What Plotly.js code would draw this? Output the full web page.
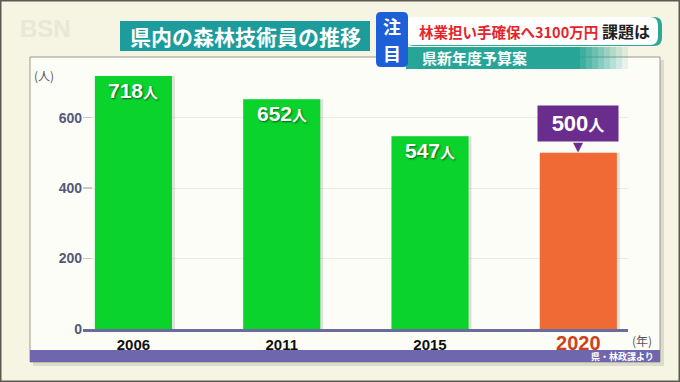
<!DOCTYPE html>
<html>
<head>
<meta charset="utf-8">
<script src="https://cdn.plot.ly/plotly-3.0.1.min.js"></script>
<style>html,body{margin:0;padding:0;background:#f6f4e3;}#chart{width:680px;height:382px;}</style>
</head>
<body>
<div id="chart"></div>
<script>
// ---- data ----
const years = ['2006', '2011', '2015', '2020'];
const staff = [718, 652, 547, 500];
const yTicks = [0, 200, 400, 600];
const yTickLabels = ['0', '200', '400', '600'];
const unit = '人';
const highlightYear = '2020';

// ---- layout geometry (page pixels) ----
const PW = 680, PHT = 382;
const L = 83, R = 52, T = 63, B = 53;
const W = PW - L - R, PH = PHT - T - B;
const px = x => (x - L) / W;
const py = y => (T + PH - y) / PH;
const FONT = 'Liberation Sans, Arial, Noto Sans CJK JP, sans-serif';
const JFONT = 'Noto Sans CJK JP, sans-serif';

function rect(x0, y0, x1, y1, fill, line, lw) {
  return {type: 'rect', xref: 'paper', yref: 'paper', layer: 'below',
    x0: px(x0), x1: px(x1), y0: py(y1), y1: py(y0),
    fillcolor: fill, line: {color: line || 'rgba(0,0,0,0)', width: lw || 0}};
}
function rrect(x0, y0, x1, y1, r, fill, line, lw) {
  const X = v => px(v).toFixed(5), Y = v => py(v).toFixed(5);
  const p = `M${X(x0 + r)},${Y(y0)} L${X(x1 - r)},${Y(y0)} Q${X(x1)},${Y(y0)} ${X(x1)},${Y(y0 + r)} ` +
    `L${X(x1)},${Y(y1 - r)} Q${X(x1)},${Y(y1)} ${X(x1 - r)},${Y(y1)} L${X(x0 + r)},${Y(y1)} ` +
    `Q${X(x0)},${Y(y1)} ${X(x0)},${Y(y1 - r)} L${X(x0)},${Y(y0 + r)} Q${X(x0)},${Y(y0)} ${X(x0 + r)},${Y(y0)} Z`;
  return {type: 'path', xref: 'paper', yref: 'paper', layer: 'below', path: p,
    fillcolor: fill, line: {color: line || 'rgba(0,0,0,0)', width: lw || 0}};
}
function note(x, y, text, size, color, opts) {
  return Object.assign({xref: 'paper', yref: 'paper', x: px(x), y: py(y), text: text,
    xanchor: 'center', yanchor: 'middle',
    showarrow: false, font: {family: JFONT, size: size, color: color}}, opts || {});
}

const barColors = years.map(y => y === highlightYear ? '#ef6a34' : '#0ad42b');

const shadow = {
  type: 'bar', x: years, y: staff, width: 0.52, offset: -0.24,
  marker: {color: 'rgba(80,80,70,0.16)', line: {width: 0}},
  hoverinfo: 'skip'
};
const bars = {
  type: 'bar', x: years, y: staff, width: 0.52, offset: -0.26,
  marker: {color: barColors, line: {width: 0}},
  hoverinfo: 'skip'
};

const shapes = [];
// panel shadow and panel
shapes.push(rect(33, 60, 664, 366, 'rgba(0,0,0,0.10)'));
shapes.push(rect(30, 57, 660, 362, '#fdfdf7', '#9a9a8a', 1));
shapes.push(rect(30, 350, 660, 362, '#6f67ae'));
// outer frame
shapes.push(rect(0.5, 0.5, 679.5, 381.5, 'rgba(0,0,0,0)', '#5a5a50', 2));
// header: title box
shapes.push(rect(120, 21, 370, 51, '#1c9c9b'));
// headline white box + teal edge
shapes.push(rrect(406, 17, 662, 46, 8, '#2aa89a'));
shapes.push(rrect(404, 17, 658, 45, 8, '#ffffff'));
// sub bar with fade
const fadeSteps = 8;
shapes.push(rect(406, 47, 580, 69, '#27a596'));
for (let i = 0; i < fadeSteps; i++) {
  const a = 1 - (i + 1) / (fadeSteps + 1);
  shapes.push(rect(580 + i * 6, 47, 586 + i * 6, 69, `rgba(39,165,150,${a.toFixed(2)})`));
}
// 注目 box
shapes.push(rrect(376, 12, 408, 67, 5, '#1c5fd6'));

const annotations = [];
// BSN logo
annotations.push(note(45, 29, '<b>BSN</b>', 24, '#e8e7d8', {font: {family: FONT, size: 24, color: '#e8e7d8'}}));
// titles
annotations.push(note(245, 36, '<b>県内の森林技術員の推移</b>', 21, '#ffffff'));
annotations.push(note(392, 26, '<b>注</b>', 18, '#ffffff'));
annotations.push(note(392, 53, '<b>目</b>', 18, '#ffffff'));
annotations.push(note(417, 31, '<b>林業担い手確保へ3100万円</b>', 14.5, '#e5242c', {xanchor: 'left'}));
annotations.push(note(600, 31, '<b>課題は</b>', 16, '#222222', {xanchor: 'left'}));
annotations.push(note(420, 58, '<b>県新年度予算案</b>', 15, '#ffffff', {xanchor: 'left'}));
// axis unit labels
annotations.push(note(44, 75, '(人)', 12, '#555560'));
annotations.push(note(642, 341, '(年)', 12, '#555560'));
annotations.push(note(656, 356, '<b>県・林政課より</b>', 9, '#ffffff', {xanchor: 'right'}));

// value labels (category axis positions are serial numbers)
years.forEach((yr, i) => {
  if (yr === highlightYear) {
    annotations.push({xref: 'x', yref: 'y', x: i, y: staff[i], showarrow: false,
      xanchor: 'center', yanchor: 'bottom', yshift: 11, width: 76, height: 31, borderpad: 2,
      bgcolor: '#6a2d8e', text: `<b>${staff[i]}<span style="font-size:16px">${unit}</span></b>`,
      font: {family: FONT, size: 22, color: '#ffffff'}});
    annotations.push({xref: 'x', yref: 'y', x: i, y: staff[i], showarrow: false,
      xanchor: 'center', yanchor: 'bottom', yshift: -3, text: '▼',
      font: {family: 'DejaVu Sans', size: 13, color: '#6a2d8e'}});
  } else {
    annotations.push({xref: 'x', yref: 'y', x: i, y: staff[i], showarrow: false,
      xanchor: 'center', yanchor: 'top', yshift: -1,
      text: `<b>${staff[i]}<span style="font-size:15px">${unit}</span></b>`,
      font: {family: FONT, size: 21, color: '#ffffff', shadow: '1px 1px 2px rgba(0,0,0,0.55)'}});
  }
});

const tickText = years.map(y => y === highlightYear
  ? `<span style="color:#d1401c;font-size:20px"><b>${y}</b></span>`
  : `<b>${y}</b>`);

const layout = {
  width: PW, height: PHT,
  margin: {l: L, r: R, t: T, b: B, pad: 0},
  paper_bgcolor: '#f6f4e3',
  plot_bgcolor: 'rgba(0,0,0,0)',
  barmode: 'overlay',
  showlegend: false,
  xaxis: {
    type: 'category', range: [-0.34, 3.335],
    tickvals: years, ticktext: tickText,
    tickfont: {family: FONT, size: 15, color: '#111111'},
    showline: true, linecolor: '#6c6c9c', linewidth: 3,
    ticks: '', showgrid: false, zeroline: false, fixedrange: true
  },
  yaxis: {
    range: [0, 755], tickvals: yTicks, ticktext: yTickLabels,
    tickfont: {family: FONT, size: 14, color: '#565876', weight: 'bold'},
    ticks: 'inside', ticklen: 9, tickcolor: '#c9c9c9', tickwidth: 1.5,
    showgrid: true, gridcolor: '#ececE4', gridwidth: 1,
    showline: false, zeroline: false, fixedrange: true
  },
  shapes: shapes,
  annotations: annotations
};

Plotly.newPlot('chart', [shadow, bars], layout, {staticPlot: true, displayModeBar: false});
</script>
</body>
</html>
